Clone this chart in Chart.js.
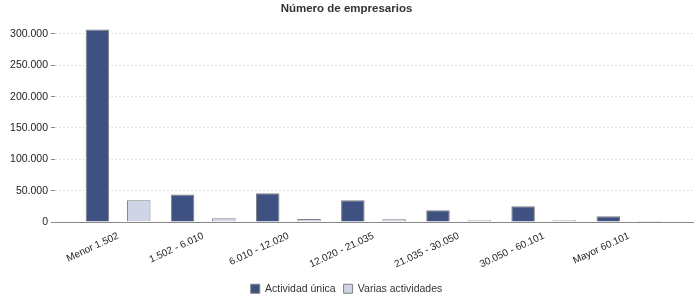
<!DOCTYPE html>
<html>
<head>
<meta charset="utf-8">
<script src="https://cdn.jsdelivr.net/npm/chart.js@4"></script>
<style>
    html, body { margin: 0; padding: 0; background: #fff; }
    #wrap { width: 700px; height: 300px; }
</style>
</head>
<body>
<div id="wrap"><canvas id="empresariosChart" width="700" height="300"></canvas></div>
<script>
// Datos
const tramos = ['Menor 1.502', '1.502 - 6.010', '6.010 - 12.020', '12.020 - 21.035',
    '21.035 - 30.050', '30.050 - 60.101', 'Mayor 60.101'];
const actividadUnica = [307000, 44000, 45800, 34600, 18800, 25000, 9200];
const variasActividades = [34800, 6000, 4900, 4500, 2800, 2800, 1700];
const ticksY = [0, 50000, 100000, 150000, 200000, 250000, 300000];

function formatoMiles(v) {
    return String(v).replace(/\B(?=(\d{3})+(?!\d))/g, '.');
}

function puntos(valores) {
    return valores.map((v, i) => ({ x: i, y: v }));
}

const fuente = 'Liberation Sans, Arial, sans-serif';

const ctx = document.getElementById('empresariosChart').getContext('2d');
new Chart(ctx, {
    type: 'bar',
    data: {
        datasets: [{
            label: 'Actividad única',
            data: puntos(actividadUnica),
            backgroundColor: '#3f5180',
            borderColor: '#7f7f7f',
            borderWidth: 1
        }, {
            label: 'Varias actividades',
            data: puntos(variasActividades),
            backgroundColor: '#cfd4e6',
            borderColor: '#7f7f7f',
            borderWidth: 1
        }]
    },
    options: {
        responsive: false,
        animation: false,
        categoryPercentage: 0.97,
        barPercentage: 0.57,
        layout: { padding: { left: 0, right: 7, top: 0, bottom: -4 } },
        scales: {
            x: {
                type: 'linear',
                offset: false,
                min: -0.741,
                max: 6.753,
                grid: { display: false, drawTicks: false },
                border: { display: true, color: '#888', width: 1 },
                afterFit: (scale) => { scale.height = 53.5; },
                ticks: {
                    stepSize: 1,
                    includeBounds: false,
                    autoSkip: false,
                    maxRotation: 25,
                    minRotation: 25,
                    padding: 8,
                    color: '#222',
                    font: { family: fuente, size: 10 },
                    callback: (v) => Number.isInteger(v) ? tramos[v] : ''
                }
            },
            y: {
                min: 0,
                max: 313000,
                afterFit: (scale) => { scale.width = 55; },
                afterBuildTicks: (scale) => { scale.ticks = ticksY.map(v => ({ value: v })); },
                grid: { color: '#e2e2e2', tickColor: '#888', tickLength: 4, tickBorderDash: [] },
                border: { display: false, dash: [2, 2] },
                ticks: {
                    padding: 3,
                    color: '#222',
                    font: { family: fuente, size: 10.5 },
                    callback: (v) => formatoMiles(v)
                }
            }
        },
        plugins: {
            title: {
                display: true,
                text: 'Número de empresarios',
                color: '#333',
                font: { family: fuente, size: 11.5, weight: 'bold' },
                padding: { top: 2, bottom: 10 }
            },
            legend: {
                position: 'bottom',
                labels: {
                    boxWidth: 9,
                    boxHeight: 9,
                    padding: 8,
                    color: '#333',
                    font: { family: fuente, size: 10.5 }
                }
            },
            tooltip: { enabled: false }
        }
    }
});
</script>
</body>
</html>
